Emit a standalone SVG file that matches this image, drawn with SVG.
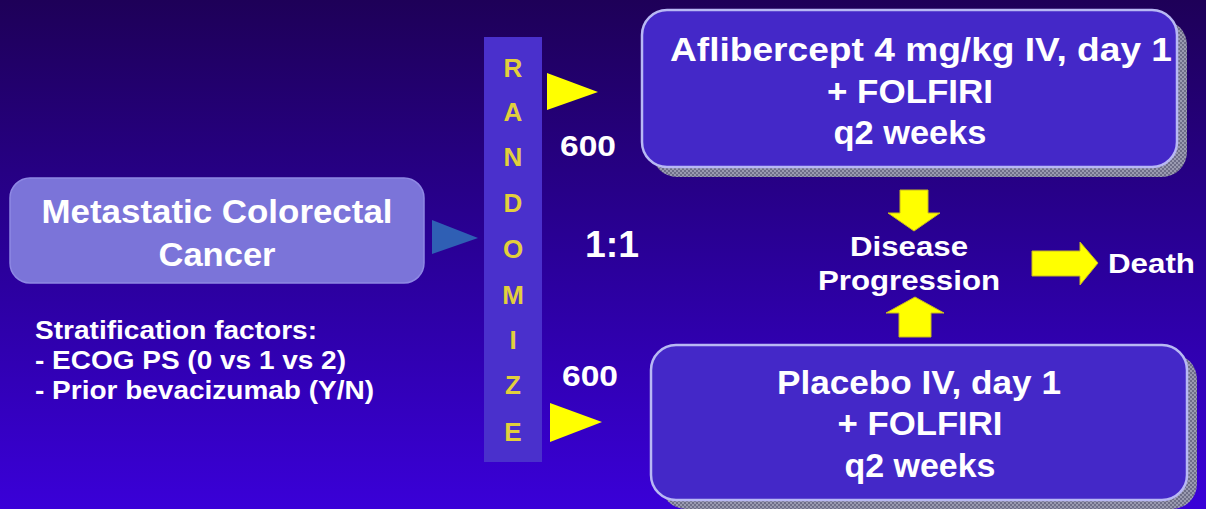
<svg xmlns="http://www.w3.org/2000/svg" width="1206" height="509" viewBox="0 0 1206 509">
<defs>
<linearGradient id="bg" x1="0" y1="0" x2="0" y2="1">
<stop offset="0" stop-color="#1e0058"/>
<stop offset="0.5" stop-color="#2a0098"/>
<stop offset="1" stop-color="#3a00d8"/>
</linearGradient>
<pattern id="hatch" width="4" height="4" patternUnits="userSpaceOnUse">
<rect width="4" height="4" fill="#6e6e88"/>
<rect width="2" height="2" fill="#9a9ab0"/>
<rect x="2" y="2" width="2" height="2" fill="#9a9ab0"/>
</pattern>
</defs>
<style>
text{font-family:"Liberation Sans",Arial,sans-serif;font-weight:bold;fill:#ffffff}
.box{fill:#4428c8;stroke:#b8b8f4;stroke-width:2.5}
.shadow{fill:url(#hatch)}
.big{font-size:33px;text-anchor:middle}
.rl{font-size:26px;fill:#e2cf3c;text-anchor:middle}
.num{font-size:29px}
.mid{font-size:28px;text-anchor:middle}
.strat{font-size:25px}
.yel{fill:#ffff00;stroke:#c8b820;stroke-width:1}
</style>
<rect width="1206" height="509" fill="url(#bg)"/>

<g id="node-mcc">
<rect x="10" y="178" width="414" height="105" rx="20" fill="#7b74d9" stroke="#8e88e4" stroke-width="1.5"/>
<text class="big" x="217" y="223" textLength="351" lengthAdjust="spacingAndGlyphs">Metastatic Colorectal</text>
<text class="big" x="217" y="266" textLength="117" lengthAdjust="spacingAndGlyphs">Cancer</text>
</g>

<g id="node-strat">
<text class="strat" x="35" y="339" textLength="282" lengthAdjust="spacingAndGlyphs">Stratification factors:</text>
<text class="strat" x="35" y="369" textLength="311" lengthAdjust="spacingAndGlyphs">- ECOG PS (0 vs 1 vs 2)</text>
<text class="strat" x="35" y="399" textLength="339" lengthAdjust="spacingAndGlyphs">- Prior bevacizumab (Y/N)</text>
</g>

<g id="node-randomize">
<rect x="484" y="37" width="58" height="425" fill="#4a30cc"/>
<text class="rl" x="513" y="77">R</text>
<text class="rl" x="513" y="121">A</text>
<text class="rl" x="513" y="166">N</text>
<text class="rl" x="513" y="212">D</text>
<text class="rl" x="513" y="258">O</text>
<text class="rl" x="513" y="304">M</text>
<text class="rl" x="513" y="349">I</text>
<text class="rl" x="513" y="394">Z</text>
<text class="rl" x="513" y="441">E</text>
</g>

<g id="node-labels">
<text class="num" x="560" y="156" textLength="56" lengthAdjust="spacingAndGlyphs">600</text>
<text class="num" x="562" y="386" textLength="56" lengthAdjust="spacingAndGlyphs">600</text>
<text x="585" y="257" style="font-size:36px" textLength="54" lengthAdjust="spacingAndGlyphs">1:1</text>
</g>

<g id="node-aflibercept">
<rect class="shadow" x="652" y="20" width="535" height="157" rx="25"/>
<rect class="box" x="642" y="10" width="535" height="157" rx="25"/>
<text class="big" x="921" y="61" textLength="502" lengthAdjust="spacingAndGlyphs">Aflibercept 4 mg/kg IV, day 1</text>
<text class="big" x="910" y="103" textLength="166" lengthAdjust="spacingAndGlyphs">+ FOLFIRI</text>
<text class="big" x="910" y="144" textLength="153" lengthAdjust="spacingAndGlyphs">q2 weeks</text>
</g>

<g id="node-placebo">
<rect class="shadow" x="661" y="354" width="536" height="155" rx="25"/>
<rect class="box" x="651" y="345" width="536" height="155" rx="25"/>
<text class="big" x="919" y="394" textLength="284" lengthAdjust="spacingAndGlyphs">Placebo IV, day 1</text>
<text class="big" x="920" y="435" textLength="165" lengthAdjust="spacingAndGlyphs">+ FOLFIRI</text>
<text class="big" x="920" y="477" textLength="151" lengthAdjust="spacingAndGlyphs">q2 weeks</text>
</g>

<g id="node-progression">
<text class="mid" x="909" y="256" textLength="118" lengthAdjust="spacingAndGlyphs">Disease</text>
<text class="mid" x="909" y="290" textLength="182" lengthAdjust="spacingAndGlyphs">Progression</text>
</g>

<g id="node-death">
<text x="1108" y="273" style="font-size:28px" textLength="87" lengthAdjust="spacingAndGlyphs">Death</text>
</g>

<g id="connectors">
<polygon points="432,220 478,238 432,254" fill="#2f5fb4"/>
<polygon points="547,73 598,92 547,110" fill="#ffff00"/>
<polygon points="550,403 602,422 550,442" fill="#ffff00"/>
<polygon class="yel" points="900,190 928,190 928,213 940,213 914,231 888,213 900,213"/>
<polygon class="yel" points="899,337 931,337 931,313 944,313 915,297 886,313 899,313"/>
<polygon class="yel" points="1032,251 1080,251 1080,242 1098,263 1080,285 1080,276 1032,276"/>
</g>
</svg>
